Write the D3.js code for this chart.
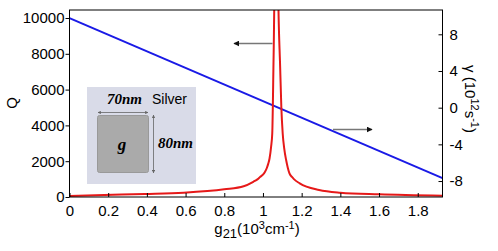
<!DOCTYPE html>
<html>
<head>
<meta charset="utf-8">
<script src="https://cdn.jsdelivr.net/npm/d3@7"></script>
<style>
  body { margin: 0; background: #fff; }
  svg text { font-family: "Liberation Sans", Arial, sans-serif; }
</style>
</head>
<body>
<svg id="chart"></svg>
<script>
// data
const gTicks = [0, 0.2, 0.4, 0.6, 0.8, 1, 1.2, 1.4, 1.6, 1.8]
const qTicks = [0, 2000, 4000, 6000, 8000, 10000]
const gammaTicks = [-8, -4, 0, 4, 8]

const qG = [0, 0.18, 0.39, 0.59, 0.80, 0.90, 0.95, 0.973, 0.985, 1.0, 1.01, 1.02, 1.027, 1.034, 1.042, 1.048, 1.054, 1.060, 1.069,
  1.078, 1.089, 1.095, 1.102, 1.11, 1.12, 1.128, 1.137, 1.15, 1.16, 1.19, 1.29, 1.40, 1.60, 1.928]
const qValues = [55, 111, 167, 239, 428, 600, 850, 1000, 1120, 1250, 1400, 1620, 1850, 2150, 2800, 3550, 7200, 12000, 30000,
  12000, 7200, 5000, 3550, 2700, 2050, 1650, 1320, 1120, 1000, 760, 390, 240, 150, 72]

const gammaG = [0, 1.928]
const gammaValues = [9.76, -7.68]

const width = 498, height = 251
const margin = {top: 10, right: 55.5, bottom: 54, left: 69.5}

const svg = d3.select('#chart')
    .attr('width', width)
    .attr('height', height)

const x = d3.scaleLinear()
    .domain([0, 1.928])
    .range([margin.left, width - margin.right])

const yQ = d3.scaleLinear()
    .domain([0, 10447])
    .range([height - margin.bottom, margin.top])

const yG = d3.scaleLinear()
    .domain([-9.74, 10.65])
    .range([height - margin.bottom, margin.top])

svg.append('clipPath').attr('id', 'clip')
  .append('rect')
    .attr('x', margin.left).attr('y', margin.top)
    .attr('width', width - margin.right - margin.left)
    .attr('height', height - margin.bottom - margin.top)

// inset picture
const inset = svg.append('g')
inset.append('rect')
    .attr('x', 87).attr('y', 87).attr('width', 109).attr('height', 97)
    .attr('fill', '#d9dbe8')
inset.append('rect')
    .attr('x', 97.5).attr('y', 115.5).attr('width', 51).attr('height', 57)
    .attr('rx', 2)
    .attr('fill', '#aaaaaa').attr('stroke', '#999').attr('stroke-width', 1)
inset.append('text')
    .attr('x', 122).attr('y', 150).attr('text-anchor', 'middle')
    .style('font-family', "'Liberation Serif', 'DejaVu Serif', serif")
    .style('font-weight', 'bold').style('font-style', 'italic').style('font-size', '17px')
    .text('g')
inset.append('text')
    .attr('x', 107).attr('y', 104)
    .style('font-family', "'Liberation Serif', 'DejaVu Serif', serif")
    .style('font-weight', 'bold').style('font-style', 'italic').style('font-size', '15px')
    .text('70nm')
inset.append('text')
    .attr('x', 158).attr('y', 148)
    .style('font-family', "'Liberation Serif', 'DejaVu Serif', serif")
    .style('font-weight', 'bold').style('font-style', 'italic').style('font-size', '15px')
    .text('80nm')
inset.append('text')
    .attr('x', 152).attr('y', 104)
    .style('font-size', '14px')
    .text('Silver')

const defs = svg.append('defs')
const mk = (id, fill) => defs.append('marker')
    .attr('id', id)
    .attr('viewBox', '0 0 10 10')
    .attr('refX', 9).attr('refY', 5)
    .attr('markerWidth', 4).attr('markerHeight', 4)
    .attr('orient', 'auto-start-reverse')
  .append('path').attr('d', 'M0,0L10,5L0,10z').attr('fill', fill)
mk('dimhead', '#666')
mk('arrhead', '#111')

inset.append('line')
    .attr('x1', 98).attr('x2', 148).attr('y1', 112.5).attr('y2', 112.5)
    .attr('stroke', '#666').attr('stroke-width', 0.8)
    .attr('marker-start', 'url(#dimhead)').attr('marker-end', 'url(#dimhead)')
inset.append('line')
    .attr('x1', 153.5).attr('x2', 153.5).attr('y1', 115).attr('y2', 173)
    .attr('stroke', '#666').attr('stroke-width', 0.8)
    .attr('marker-start', 'url(#dimhead)').attr('marker-end', 'url(#dimhead)')

// curves
const qPoints = qG.map((g, i) => [g, qValues[i]])
const gammaPoints = gammaG.map((g, i) => [g, gammaValues[i]])

svg.append('path')
    .datum(gammaPoints)
    .attr('clip-path', 'url(#clip)')
    .attr('fill', 'none')
    .attr('stroke', '#1a1ae6')
    .attr('stroke-width', 2)
    .attr('d', d3.line().x(d => x(d[0])).y(d => yG(d[1])))

svg.append('path')
    .datum(qPoints)
    .attr('clip-path', 'url(#clip)')
    .attr('fill', 'none')
    .attr('stroke', '#e61919')
    .attr('stroke-width', 2)
    .attr('d', d3.line().curve(d3.curveMonotoneX).x(d => x(d[0])).y(d => yQ(d[1])))

// pointer arrows
svg.append('line')
    .attr('x1', 272.5).attr('x2', 234).attr('y1', 43.5).attr('y2', 43.5)
    .attr('stroke', '#777').attr('stroke-width', 1.5)
    .attr('marker-end', 'url(#arrhead)')
svg.append('line')
    .attr('x1', 333).attr('x2', 372).attr('y1', 129.5).attr('y2', 129.5)
    .attr('stroke', '#777').attr('stroke-width', 1.5)
    .attr('marker-end', 'url(#arrhead)')

// box
svg.append('rect')
    .attr('x', margin.left).attr('y', margin.top)
    .attr('width', width - margin.right - margin.left)
    .attr('height', height - margin.bottom - margin.top)
    .attr('fill', 'none').attr('stroke', '#000').attr('stroke-width', 1)

// axes
const gx = svg.append('g')
    .attr('transform', `translate(0,${height - margin.bottom})`)
    .call(d3.axisBottom(x).tickValues(gTicks).tickFormat(d => String(d)).tickSizeInner(-4).tickSizeOuter(0).tickPadding(8))
const gyl = svg.append('g')
    .attr('transform', `translate(${margin.left},0)`)
    .call(d3.axisLeft(yQ).tickValues(qTicks).tickFormat(d => String(d)).tickSizeInner(4).tickSizeOuter(0).tickPadding(1))
const gyr = svg.append('g')
    .attr('transform', `translate(${width - margin.right},0)`)
    .call(d3.axisRight(yG).tickValues(gammaTicks).tickFormat(d => String(d)).tickSizeInner(-4).tickSizeOuter(0).tickPadding(7))

for (const g of [gx, gyl, gyr]) {
  g.select('.domain').remove()
  g.selectAll('text').style('font-size', '15px').style('font-family', "'Liberation Sans', Arial, sans-serif").attr('fill', '#000')
  g.selectAll('line').attr('stroke', '#000')
}

// axis titles
svg.append('text')
    .attr('transform', 'translate(17,103) rotate(-90)')
    .attr('text-anchor', 'middle')
    .style('font-size', '15px')
    .text('Q')

const xl = svg.append('text')
    .attr('x', 257).attr('y', 234)
    .attr('text-anchor', 'middle')
    .style('font-size', '15px')
xl.append('tspan').text('g')
xl.append('tspan').attr('dy', 4).style('font-size', '13px').text('21')
xl.append('tspan').attr('dy', -4).text('(10')
xl.append('tspan').attr('dy', -5).style('font-size', '11px').text('3')
xl.append('tspan').attr('dy', 5).text('cm')
xl.append('tspan').attr('dy', -5).style('font-size', '11px').text('-1')
xl.append('tspan').attr('dy', 5).text(')')

const yl = svg.append('text')
    .attr('transform', 'translate(465,99) rotate(90)')
    .attr('text-anchor', 'middle')
    .style('font-size', '15px')
yl.append('tspan').text('γ (10')
yl.append('tspan').attr('dy', -6).style('font-size', '11px').text('12')
yl.append('tspan').attr('dy', 6).text('s')
yl.append('tspan').attr('dy', -6).style('font-size', '11px').text('-1')
yl.append('tspan').attr('dy', 6).text(')')
</script>
</body>
</html>
